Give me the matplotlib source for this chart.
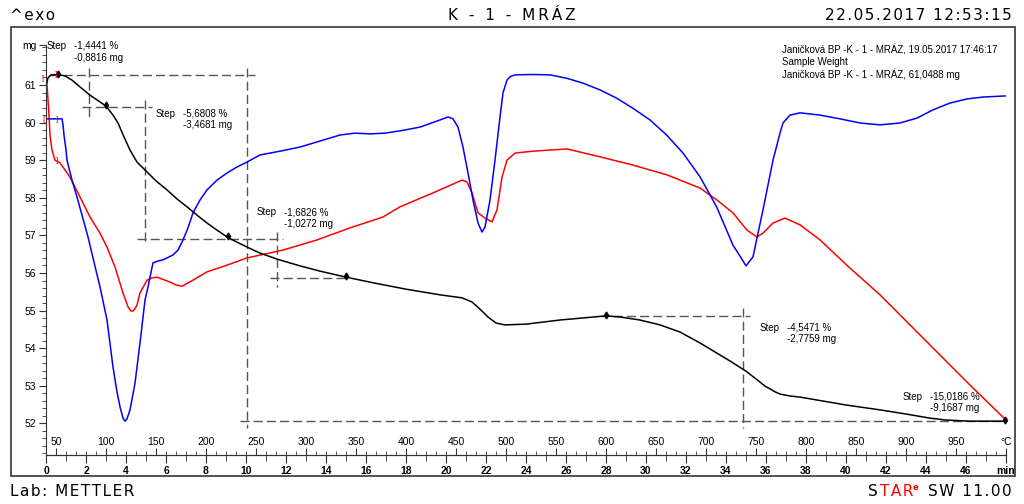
import matplotlib.pyplot as plt
from matplotlib.patches import Rectangle
from matplotlib.ticker import MultipleLocator

# TGA curve: sample mass (mg) against time (min)
black_t = [0.025, 0.1, 0.25, 0.6, 0.95, 1.3, 1.7, 2.2, 2.7, 3.0,
           3.35, 3.6, 3.9, 4.2, 4.55, 4.95, 5.5, 6.05, 6.55, 7.05,
           7.55, 8.05, 8.55, 9.05, 9.55, 10.05, 10.7, 11.55, 12.7, 13.7,
           15.0, 16.45, 18.0, 19.7, 20.8, 21.3, 21.7, 22.1, 22.5, 22.95,
           24.0, 25.7, 28.0, 28.7, 29.7, 30.7, 31.7, 32.7, 33.45, 34.2,
           35.0, 35.7, 35.95, 36.2, 36.45, 36.7, 37.2, 37.7, 40.0, 41.7,
           43.0, 44.2, 45.0, 46.2, 48.0]
black_mg = [61.03, 61.19, 61.27, 61.28, 61.24, 61.13, 60.95, 60.73, 60.55, 60.44,
            60.2, 59.99, 59.62, 59.27, 58.95, 58.74, 58.45, 58.21, 57.97, 57.76,
            57.54, 57.33, 57.14, 56.96, 56.82, 56.69, 56.53, 56.37, 56.19, 56.05,
            55.89, 55.73, 55.57, 55.42, 55.34, 55.23, 55.04, 54.83, 54.67, 54.62,
            54.64, 54.75, 54.86, 54.83, 54.75, 54.62, 54.43, 54.14, 53.9, 53.66,
            53.39, 53.1, 52.99, 52.92, 52.84, 52.78, 52.73, 52.7, 52.49, 52.36,
            52.25, 52.14, 52.09, 52.06, 52.06]

# blue signal, drawn in the mg scale of the plot
blue_t = [0.0, 0.8, 0.85, 0.9, 1.0, 1.05, 1.3, 1.55, 1.8, 2.1,
          2.4, 2.7, 3.05, 3.35, 3.55, 3.7, 3.85, 3.95, 4.05, 4.2,
          4.45, 4.7, 4.95, 5.1, 5.35, 5.6, 5.85, 6.35, 6.6, 6.85,
          7.1, 7.35, 7.7, 8.05, 8.55, 9.05, 9.55, 10.05, 10.7, 11.7,
          12.7, 13.7, 14.7, 15.45, 16.2, 16.95, 17.7, 18.7, 19.7, 20.1,
          20.35, 20.6, 20.85, 21.1, 21.35, 21.6, 21.8, 21.95, 22.2, 22.45,
          22.7, 22.85, 23.05, 23.2, 23.45, 24.35, 25.2, 26.03, 26.85, 27.7,
          28.53, 29.35, 30.2, 31.03, 31.85, 32.7, 33.53, 34.35, 34.7, 35.0,
          35.35, 35.85, 36.35, 36.7, 36.85, 37.2, 37.7, 38.7, 39.7, 40.7,
          41.7, 42.7, 43.55, 44.35, 45.2, 46.05, 46.85, 48.0]
blue_v = [60.1, 60.1, 59.94, 59.67, 59.27, 59.0, 58.47, 58.02, 57.54, 56.96,
          56.29, 55.63, 54.75, 53.5, 52.84, 52.44, 52.14, 52.06, 52.12, 52.36,
          53.07, 54.14, 55.28, 55.63, 56.27, 56.32, 56.35, 56.48, 56.61, 56.88,
          57.2, 57.6, 57.94, 58.21, 58.47, 58.66, 58.82, 58.95, 59.14, 59.24,
          59.35, 59.51, 59.67, 59.72, 59.7, 59.72, 59.78, 59.88, 60.07, 60.15,
          60.1, 59.88, 59.35, 58.66, 57.94, 57.33, 57.09, 57.22, 57.94, 59.0,
          60.15, 60.79, 61.13, 61.22, 61.27, 61.28, 61.27, 61.18, 61.05, 60.87,
          60.65, 60.38, 60.07, 59.67, 59.19, 58.56, 57.76, 56.74, 56.45, 56.19,
          56.43, 57.68, 59.0, 59.72, 59.99, 60.2, 60.26, 60.2, 60.1, 59.99,
          59.94, 59.99, 60.12, 60.34, 60.52, 60.63, 60.68, 60.71]

# red signal, drawn in the mg scale of the plot
red_t = [0.0, 0.05, 0.1, 0.15, 0.2, 0.25, 0.3, 0.45, 0.7, 1.2,
         1.7, 2.2, 2.7, 3.05, 3.45, 3.85, 4.1, 4.25, 4.35, 4.45,
         4.55, 4.7, 5.05, 5.3, 5.55, 6.2, 6.5, 6.8, 7.35, 8.05,
         9.05, 10.05, 11.85, 13.55, 15.2, 16.85, 17.7, 19.35, 20.8, 21.05,
         21.3, 21.6, 21.95, 22.3, 22.55, 22.8, 23.05, 23.45, 24.35, 26.05,
         27.7, 29.35, 31.05, 32.7, 33.55, 34.35, 35.05, 35.55, 35.85, 36.35,
         36.95, 37.7, 38.7, 40.2, 41.7, 43.2, 44.7, 46.2, 48.0]
red_v = [61.27, 61.0, 60.6, 60.2, 59.67, 59.47, 59.27, 59.0, 58.93, 58.55,
         58.02, 57.49, 57.06, 56.69, 56.16, 55.47, 55.1, 54.99, 54.99, 55.05,
         55.15, 55.47, 55.81, 55.87, 55.89, 55.76, 55.68, 55.65, 55.81, 56.03,
         56.21, 56.4, 56.61, 56.88, 57.2, 57.49, 57.76, 58.13, 58.47, 58.42,
         58.13, 57.6, 57.46, 57.36, 57.68, 58.55, 59.0, 59.19, 59.24, 59.3,
         59.09, 58.87, 58.61, 58.26, 57.94, 57.6, 57.14, 56.96, 57.06, 57.33,
         57.46, 57.28, 56.88, 56.13, 55.42, 54.62, 53.82, 53.02, 52.09]

# step evaluations
step_pct = ['-1,4441 %', '-5,6808 %', '-1,6826 %', '-4,5471 %', '-15,0186 %']
step_mg = ['-0,8816 mg', '-3,4681 mg', '-1,0272 mg', '-2,7759 mg', '-9,1687 mg']
step_text_t = [0.05, 5.5, 10.55, 35.7, 42.85]
step_text_mg = [62.04, 60.24, 57.61, 54.55, 52.71]

# evaluation limit lines: horizontal (mg, t from, t to) and vertical (t, mg from, mg to)
hline_mg = [61.27, 60.42, 56.9, 55.87, 54.86, 52.06]
hline_t0 = [0.2, 1.8, 4.55, 11.2, 27.7, 9.7]
hline_t1 = [10.45, 5.3, 11.85, 15.05, 35.2, 48.0]
vline_t = [2.15, 10.05, 4.95, 11.55, 34.85]
vline_mg0 = [61.45, 61.45, 60.6, 57.09, 55.07]
vline_mg1 = [60.15, 51.88, 56.74, 55.63, 51.88]

mark_t = [0.6, 3.0, 9.1, 15.0, 28.0, 47.95]
mark_mg = [61.29, 60.46, 56.98, 55.91, 54.89, 52.1]

temp_ticks = list(range(50, 1000, 50))

narrow = ['Liberation Sans Narrow', 'Liberation Sans', 'DejaVu Sans']
plt.rcParams['font.family'] = narrow

fig = plt.figure(figsize=(10.24, 5.04), dpi=100)
ax = fig.add_axes([46 / 1024, 1 - 455 / 504, 960 / 1024, 410 / 504])
ax.set_xlim(0, 48)
ax.set_ylim(51.16, 62.064)
for s in ['top', 'right']:
    ax.spines[s].set_visible(False)
ax.spines['left'].set_color('#333333')
ax.spines['bottom'].set_color('#333333')

dash = dict(color='#555555', lw=1.0, dashes=(6.5, 3))
for m, a, b in zip(hline_mg, hline_t0, hline_t1):
    ax.plot([a, b], [m, m], **dash)
for t, a, b in zip(vline_t, vline_mg0, vline_mg1):
    ax.plot([t, t], [a, b], **dash)

ax.plot(red_t, red_v, color='#ff0000', lw=1.1)
ax.plot(blue_t, blue_v, color='#0000ff', lw=1.1)
ax.plot(black_t, black_mg, color='black', lw=1.1)
ax.plot(mark_t, mark_mg, 'kd', ms=3.5, clip_on=False)

for t, m, p, g in zip(step_text_t, step_text_mg, step_pct, step_mg):
    ax.text(t, m, 'Step', fontsize=7, va='center', ha='left')
    ax.text(t + 1.35, m, p, fontsize=7, va='center', ha='left')
    ax.text(t + 1.35, m - 0.31, g, fontsize=7, va='center', ha='left')

# curve start brackets
for t, m, s in [(-0.15, 61.16, '['), (0.5, 61.29, ']'), (-0.1, 60.07, '['),
                (0.55, 60.07, ']'), (0.55, 59.0, ']')]:
    ax.text(t, m, s, color='#ff0000', fontsize=6, ha='center', va='center', clip_on=False)

yt = list(range(52, 62)) + [62.064]
ax.set_yticks(yt, [str(v) for v in range(52, 62)] + ['mg'])
ax.yaxis.set_minor_locator(MultipleLocator(0.2))
ax.tick_params(axis='y', which='major', length=5, labelsize=7.5, pad=2, color='#333333')
ax.tick_params(axis='y', which='minor', length=3, color='#333333')

xt = list(range(0, 47, 2)) + [48]
ax.set_xticks(xt, [str(v) for v in range(0, 47, 2)] + ['min'], fontweight='bold')
ax.xaxis.set_minor_locator(MultipleLocator(1))
ax.tick_params(axis='x', which='major', length=6, labelsize=7.5, pad=2, color='#333333')
ax.tick_params(axis='x', which='minor', length=4, color='#333333')

sec = ax.secondary_xaxis(0, functions=(lambda t: 40 + 20 * t, lambda T: (T - 40) / 20))
sec.set_alignment('top')
sec.set_xticks(temp_ticks + [1000], [str(v) for v in temp_ticks] + ['°C'])
sec.xaxis.set_minor_locator(MultipleLocator(10))
sec.tick_params(which='major', length=5, labelsize=7.5, pad=1, color='#333333')
sec.tick_params(which='minor', length=3, color='#333333')

# legend block
for i, line in enumerate(['Janičková BP -K - 1 - MRÁZ, 19.05.2017 17:46:17',
                          'Sample Weight',
                          'Janičková BP -K - 1 - MRÁZ, 61,0488 mg']):
    fig.text(782 / 1024, 1 - (50 + 12 * i) / 504, line, fontsize=7, va='center')

# frame and header / footer
fig.patches.append(Rectangle((11 / 1024, 1 - 476 / 504), 1004 / 1024, 449 / 504,
                             transform=fig.transFigure, fill=False, ec='#444444', lw=1.3))
hs = '\u200a'
head = dict(fontsize=11, family='DejaVu Sans', va='center')
fig.text(10 / 1024, 1 - 15 / 504, hs.join('^exo'), ha='left', **head)
fig.text(512 / 1024, 1 - 15 / 504, '\u2009'.join('K - 1 - MRÁZ'), ha='center', **head)
fig.text(1012 / 1024, 1 - 15 / 504, hs.join('22.05.2017 12:53:15'), ha='right', **head)
fig.text(10 / 1024, 1 - 492 / 504, hs.join('Lab: METTLER'), ha='left', **head)
fig.text(868 / 1024, 1 - 492 / 504, 'S', ha='left', **head)
fig.text(880 / 1024, 1 - 492 / 504, hs.join('TAR'), ha='left', color='#ff0000', **head)
fig.text(913 / 1024, 1 - 487 / 504, 'e', ha='left', color='#ff0000',
         fontsize=6, family='DejaVu Sans', va='center', fontweight='bold')
fig.text(1012 / 1024, 1 - 492 / 504, hs.join('SW 11.00'), ha='right', **head)

fig.savefig('out.png', dpi=100)
